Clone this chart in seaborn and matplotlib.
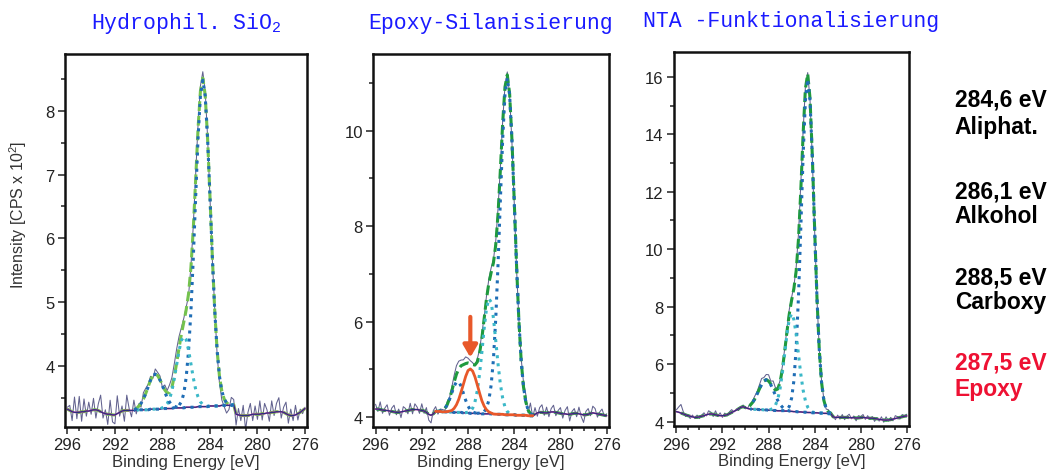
import numpy as np
import seaborn as sns
import matplotlib.pyplot as plt
from matplotlib.ticker import MultipleLocator

# binding energy axis of the scans, 0.2 eV steps from 296 to 276 eV
energy = np.linspace(296, 276, 101)

# --- Hydrophil. SiO2 ------------------------------------------------------
# background (smoothed data outside the fit window, linear inside), x100
hyd_bg = [332, 330, 328, 327, 327, 327, 328, 328, 329, 329,
          330, 331, 331, 330, 328, 326, 325, 324, 324, 323,
          323, 325, 327, 329, 330, 330, 330, 330, 330, 330,
          331, 331, 331, 331, 331, 332, 332, 332, 332, 332,
          333, 333, 333, 333, 333, 334, 334, 334, 334, 334,
          335, 335, 335, 335, 335, 336, 336, 336, 336, 336,
          337, 337, 337, 337, 337, 338, 338, 338, 338, 338,
          339, 324, 323, 322, 322, 322, 322, 323, 324, 324,
          324, 324, 325, 325, 326, 326, 327, 327, 328, 328,
          328, 327, 325, 323, 322, 322, 323, 325, 327, 330,
          333]
# measured counts minus fit envelope, x100
hyd_resid = [3, 8, -14, 24, -10, 25, -15, 20, -8, 14,
             -6, 18, -13, 10, 26, -8, 6, -16, 22, -11,
             -14, 28, -6, 8, -17, 24, 3, -10, 15, -8,
             4, -6, 10, 8, 4, 6, -4, 8, 5, 6,
             -4, 8, 4, 12, 15, 20, 22, 18, 10, 6,
             4, -3, 2, 5, 8, 6, 8, 10, 6, 2,
             -2, -4, 3, -6, -10, -14, -12, -16, -8, 12,
             8, -17, 10, -8, 16, -22, 5, 18, -10, 13,
             -8, 21, -10, 16, 5, -13, 18, -5, 13, 22,
             -10, 8, 18, -13, 10, -8, 15, -10, 5, -5,
             2]
hyd_kind = ["aliphat", "alkohol", "carboxy"]
hyd_center = [284.6, 286.2, 288.6]
hyd_height = [5.12, 1.12, 0.55]
hyd_sigma = [0.64, 0.60, 0.65]
hyd_window = (282.0, 290.4)

# --- Epoxy-Silanisierung --------------------------------------------------
epo_bg = [417, 417, 416, 415, 414, 414, 413, 412, 411, 410,
          410, 411, 412, 413, 414, 415, 416, 416, 416, 415,
          414, 413, 410, 406, 404, 407, 412, 412, 412, 411,
          411, 411, 411, 410, 410, 410, 410, 410, 409, 409,
          409, 408, 408, 408, 408, 408, 407, 407, 407, 407,
          407, 406, 406, 406, 406, 406, 405, 405, 405, 405,
          405, 404, 404, 404, 404, 404, 403, 403, 403, 406,
          409, 410, 410, 409, 409, 410, 411, 411, 410, 409,
          408, 407, 407, 406, 406, 407, 408, 408, 407, 406,
          405, 405, 406, 408, 409, 408, 407, 406, 405, 404,
          403]
epo_resid = [10, -5, 16, -7, 5, 12, -9, 7, 14, -5,
             7, -12, 10, 5, -7, 14, -9, 12, 5, -7,
             14, -5, 10, -12, -16, 7, 10, -6, 4, 2,
             -4, 6, 2, 8, 14, 18, 16, 12, 10, 14,
             10, 6, 4, -2, 6, 8, 10, 4, 6, 8,
             10, 6, 8, 12, 6, 4, 2, 6, -4, -6,
             -4, -8, 2, 4, 10, 16, -6, 22, -4, 14,
             -7, 10, 16, -5, 12, -9, 7, 14, -7, 5,
             12, -9, 7, 16, -14, 5, 10, -7, 14, -5,
             -16, 7, 12, -5, 14, 10, -7, 5, 12, -2,
             4]
epo_kind = ["aliphat", "alkohol", "carboxy", "epoxy"]
epo_center = [284.6, 286.15, 288.9, 287.8]
epo_height = [7.05, 2.42, 0.65, 0.93]
epo_sigma = [0.63, 0.58, 0.52, 0.64]
epo_window = (282.4, 290.8)
epo_arrow = (287.8, 6.1, 5.25)   # energy, tail, tip

# --- NTA-Funktionalisierung -----------------------------------------------
nta_bg = [435, 433, 430, 427, 424, 421, 419, 417, 415, 415,
          417, 419, 421, 424, 426, 427, 426, 424, 422, 421,
          421, 422, 424, 428, 432, 436, 440, 445, 450, 452,
          449, 446, 444, 444, 443, 443, 442, 442, 441, 441,
          440, 440, 439, 439, 438, 438, 438, 437, 437, 436,
          436, 435, 435, 434, 434, 433, 433, 432, 432, 431,
          431, 431, 430, 430, 429, 429, 428, 428, 417, 415,
          415, 415, 415, 415, 415, 414, 414, 414, 413, 413,
          414, 415, 414, 413, 412, 412, 411, 410, 408, 407,
          406, 405, 406, 407, 409, 411, 413, 415, 417, 419,
          420]
nta_resid = [6, 18, 30, 8, -6, 4, -8, 6, -4, 8,
             -6, 4, 10, -4, 12, 6, -8, 14, -4, 10,
             -6, 8, -4, 6, 10, -2, 4, -6, 2, 6,
             -4, 2, 6, 4, 10, 8, 14, 20, 12, 18,
             22, 10, 24, 8, 4, 6, 10, 8, 12, 16,
             10, 8, 12, 18, 24, 10, 6, 4, -6, -8,
             -6, -4, 2, 6, 4, -2, 8, -4, 6, -8,
             8, -6, 10, -8, 4, 12, -4, 6, -10, 8,
             4, 10, -6, 8, -4, 6, -10, 4, -6, 10,
             -8, 12, -4, 8, -6, 10, 4, -6, 8, 2,
             6]
nta_kind = ["aliphat", "alkohol", "carboxy"]
nta_center = [284.6, 286.0, 288.2]
nta_height = [11.6, 3.4, 1.05]
nta_sigma = [0.55, 0.58, 0.68]
nta_window = (282.6, 289.6)

titles = ["Hydrophil. SiO$_\\mathtt{2}$", "Epoxy-Silanisierung", "NTA -Funktionalisierung"]
legend_lines = [("284,6 eV", "Aliphat."), ("286,1 eV", "Alkohol"),
                ("288,5 eV", "Carboxy"), ("287,5 eV", "Epoxy")]

comp_style = {
    "aliphat": dict(color="#1f6db5", linestyle=":", lw=2.2),
    "alkohol": dict(color="#3bb8c8", linestyle=":", lw=2.2),
    "carboxy": dict(color="#1f6db5", linestyle=":", lw=2.2),
    "epoxy": dict(color="#e8582a", linestyle="-", lw=2.0),
}

sns.set_theme(style="ticks")
plt.rcParams["font.family"] = ["Liberation Sans", "DejaVu Sans"]
plt.rcParams["mathtext.fontset"] = "custom"
plt.rcParams["mathtext.rm"] = "Liberation Sans"
plt.rcParams["mathtext.tt"] = "Liberation Mono"

fig = plt.figure(figsize=(10.55, 4.77), dpi=100)

panels = [
    dict(bg=hyd_bg, resid=hyd_resid, kind=hyd_kind, center=hyd_center,
         height=hyd_height, sigma=hyd_sigma, window=hyd_window,
         rect=[0.0616, 0.1027, 0.2294, 0.782], ylim=(3.04, 8.89),
         major=1, minor=0.5, green="#74c24e"),
    dict(bg=epo_bg, resid=epo_resid, kind=epo_kind, center=epo_center,
         height=epo_height, sigma=epo_sigma, window=epo_window,
         rect=[0.3538, 0.1033, 0.2231, 0.781], ylim=(3.80, 11.6),
         major=2, minor=1, green="#1f9a3e"),
    dict(bg=nta_bg, resid=nta_resid, kind=nta_kind, center=nta_center,
         height=nta_height, sigma=nta_sigma, window=nta_window,
         rect=[0.6389, 0.1042, 0.2225, 0.784], ylim=(3.84, 16.85),
         major=2, minor=1, green="#1f9a3e"),
]

for i, p in enumerate(panels):
    ax = fig.add_axes(p["rect"])
    bg = np.array(p["bg"]) / 100.0
    lo, hi = p["window"]
    inside = (energy >= lo - 1e-6) & (energy <= hi + 1e-6)

    comps = []
    for c, h, s in zip(p["center"], p["height"], p["sigma"]):
        g = h * np.exp(-0.5 * ((energy - c) / s) ** 2)
        comps.append(np.where(inside, g, 0.0))
    envelope = bg + np.sum(comps, axis=0)
    raw = envelope + np.array(p["resid"]) / 100.0

    # measured spectrum
    sns.lineplot(x=energy, y=raw, ax=ax, color="#62628f", lw=0.75)
    # fit envelope
    sns.lineplot(x=energy, y=envelope, ax=ax, color=p["green"], lw=2.2,
                 linestyle="--")
    ax.lines[-1].set_dashes([3.2, 1.6])
    # background
    sns.lineplot(x=energy, y=bg, ax=ax, color="#d0409a", lw=1.2)
    sns.lineplot(x=energy, y=bg, ax=ax, color="#2b2f80", lw=0.9)
    # fit components
    for kind, g in zip(p["kind"], comps):
        st = comp_style[kind]
        sns.lineplot(x=energy[inside], y=(bg + g)[inside], ax=ax, **st)

    if i == 1:
        e, tail, tip = epo_arrow
        ax.annotate("", xy=(e, tip), xytext=(e, tail),
                    arrowprops=dict(arrowstyle="-|>,head_width=0.35,head_length=0.6",
                                    color="#e8582a", lw=3, shrinkA=0, shrinkB=0))

    ax.set_xlim(296.2, 275.83)
    ax.set_ylim(*p["ylim"])
    ax.xaxis.set_major_locator(MultipleLocator(4))
    ax.xaxis.set_minor_locator(MultipleLocator(1))
    ax.yaxis.set_major_locator(MultipleLocator(p["major"]))
    ax.yaxis.set_minor_locator(MultipleLocator(p["minor"]))
    ax.tick_params(which="major", direction="out", length=5, width=1.1,
                   color="#222222", labelsize=12, labelcolor="#222222", pad=2.5)
    ax.tick_params(which="minor", direction="out", length=3, width=1.1,
                   color="#222222")
    for sp in ax.spines.values():
        sp.set_linewidth(1.8)
        sp.set_color("#111111")
    ax.set_xlabel("Binding Energy [eV]", fontsize=12, color="#333333", labelpad=1)
    if i == 0:
        ax.set_ylabel("Intensity [CPS x 10$^2$]", fontsize=11.5, color="#333333")
        ax.yaxis.set_label_coords(-0.15, 0.571)
    else:
        ax.set_ylabel("")
    ax.set_title(titles[i], family="Liberation Mono", color="#1a1aff",
                 fontsize=15.5, pad=19)

label_baselines = [(106.7, 134), (199, 223), (284, 309), (370, 396)]
for j, ((top, bottom), (yb1, yb2)) in enumerate(zip(legend_lines, label_baselines)):
    col = "#ee1133" if j == 3 else "#000000"
    fig.text(0.905, 1 - yb1 / 477, top, fontsize=16.5, fontweight="bold",
             color=col, va="baseline", ha="left")
    fig.text(0.905, 1 - yb2 / 477, bottom, fontsize=16.5, fontweight="bold",
             color=col, va="baseline", ha="left")

fig.savefig("out.png", dpi=100)
